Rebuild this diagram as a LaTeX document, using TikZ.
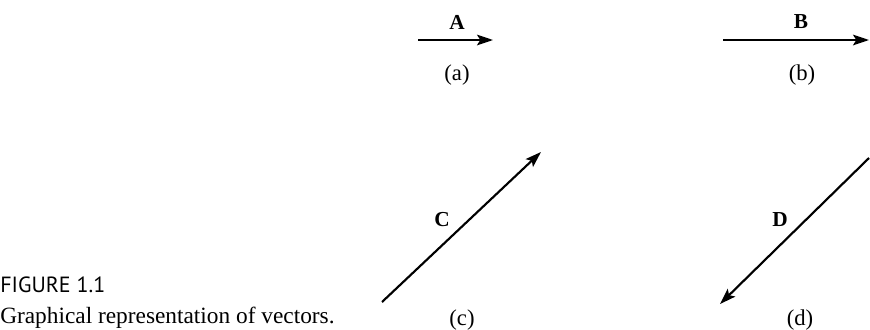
\documentclass[tikz,border=0pt]{standalone}
\usepackage{fontspec}
\setmainfont{Liberation Serif}
\newfontfamily\capfont{PT Sans}
\usetikzlibrary{arrows.meta, positioning}

\begin{document}
\begin{tikzpicture}[x=0.75pt, y=-0.75pt,
        vec/.style={line width=1.6pt, -{Stealth[length=12pt, width=8pt, inset=2.5pt]}},
        vecname/.style={font=\fontsize{16}{18}\selectfont\bfseries, inner sep=0pt},
        tag/.style={font=\fontsize{17}{19}\selectfont, inner sep=0pt}]
        \useasboundingbox (0,0) rectangle (870,329);
        % (a) short horizontal vector
        \coordinate (a0) at (418,40);
        \coordinate (a1) at (493,40);
        \draw[vec] (a0) -- (a1);
        \node[vecname] (nA) at (457,22) {A};
        \node[tag] (tA) at (457,75) {(a)};
        % (b) long horizontal vector
        \coordinate (b0) at (723,40);
        \coordinate (b1) at (869,40);
        \draw[vec] (b0) -- (b1);
        \node[vecname] (nB) at (801,22) {B};
        \node[tag] (tB) at (802,75) {(b)};
        % (c) oblique vector, pointing up
        \coordinate (c0) at (382,302);
        \coordinate (c1) at (541,152);
        \draw[vec] (c0) -- (c1);
        \node[vecname] (nC) at (442,220) {C};
        \node[tag] (tC) at (462,320) {(c)};
        % (d) oblique vector, pointing down
        \coordinate (d0) at (869,158);
        \coordinate (d1) at (720,304);
        \draw[vec] (d0) -- (d1);
        \node[vecname] (nD) at (780,220) {D};
        \node[tag] (tD) at (800,320) {(d)};
        % caption
        \node[anchor=base west, inner sep=0pt, font=\capfont\fontsize{16.5}{18}\selectfont] (fig) at (0,292) {FIGURE 1.1};
        \node[anchor=base west, inner sep=0pt, font=\fontsize{17.5}{19}\selectfont] (cap) at (0,323) {Graphical representation of vectors.};
\end{tikzpicture}
\end{document}
